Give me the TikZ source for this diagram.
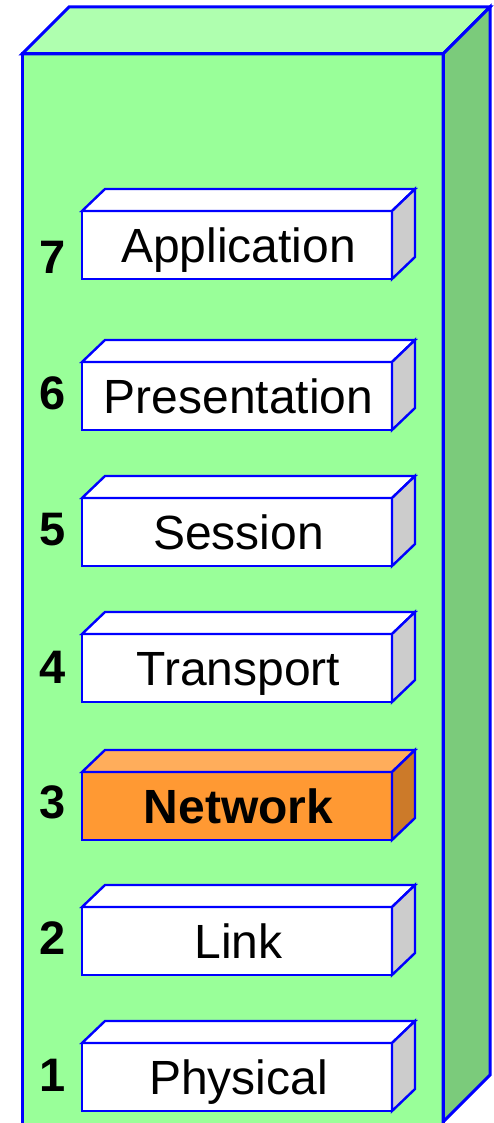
\documentclass[tikz,border=0pt]{standalone}
\usepackage{fontspec}
\setmainfont{Liberation Sans}
\definecolor{edgeblue}{HTML}{0000FF}
\definecolor{stackfront}{HTML}{99FF99}
\definecolor{stacktop}{HTML}{AFFFAF}
\definecolor{stackside}{HTML}{7BCB7B}
\definecolor{sidegray}{HTML}{CCCCCC}
\definecolor{netfront}{HTML}{FF9933}
\definecolor{nettop}{HTML}{FFAD5B}
\definecolor{netside}{HTML}{CC7A29}
\tikzset{
  stackedge/.style={draw=edgeblue, line width=3pt, line join=miter},
  layerbox/.style={draw=edgeblue, line width=2.4pt, minimum width=310pt,
    minimum height=68pt, inner sep=0pt, outer sep=0pt, anchor=north west,
    text height=34.4pt, text depth=0pt,
    font=\fontsize{48}{56}\selectfont, text=black},
  layeredge/.style={draw=edgeblue, line width=2.4pt, line join=miter},
  layernum/.style={font=\fontsize{47}{56}\selectfont\bfseries, text=black, inner sep=0pt}
}
% one layer: name, top y, label, front, top and side fill colours
\newcommand\osilayer[6]{%
  \node[layerbox, fill=#4] (#1) at (82,#2) {\hspace*{3pt}#3};
  \filldraw[layeredge, fill=#5] (#1.north west) -- ++(23,-22) -- ++(310,0)
    -- (#1.north east) -- cycle;
  \filldraw[layeredge, fill=#6] (#1.north east) -- ++(23,-22) -- ++(0,68)
    -- (#1.south east) -- cycle;
}
\begin{document}
\begin{tikzpicture}[x=1pt, y=-1pt]
  \useasboundingbox (0,0) rectangle (494,1123);
  \clip (0,0) rectangle (494,1123);
  % the green stack
  \fill[stackfront] (22,54) rectangle (443,1135);
  \filldraw[stackedge, fill=stacktop] (22,54) -- (69,7) -- (490,7) -- (443,54) -- cycle;
  \filldraw[stackedge, fill=stackside] (443,54) -- (490,7) -- (490,1075) -- (443,1122) -- cycle;
  \draw[stackedge] (22,1135) -- (22,54) -- (443,54) -- (443,1135);
  % the seven layers
  \osilayer{app}{211}{Application}{white}{white}{sidegray}
  \osilayer{pres}{362}{Presentation}{white}{white}{sidegray}
  \osilayer{sess}{498}{Session}{white}{white}{sidegray}
  \osilayer{trans}{634}{Transport}{white}{white}{sidegray}
  \osilayer{net}{772}{\bfseries Network}{netfront}{nettop}{netside}
  \osilayer{link}{907}{Link}{white}{white}{sidegray}
  \osilayer{phys}{1043}{Physical}{white}{white}{sidegray}
  % layer numbers
  \node[layernum] (n7) at (53,257) {7};
  \node[layernum] (n6) at (53,393) {6};
  \node[layernum] (n5) at (53,530) {5};
  \node[layernum] (n4) at (53,667) {4};
  \node[layernum] (n3) at (53,802) {3};
  \node[layernum] (n2) at (53,938) {2};
  \node[layernum] (n1) at (53,1075) {1};
\end{tikzpicture}
\end{document}
